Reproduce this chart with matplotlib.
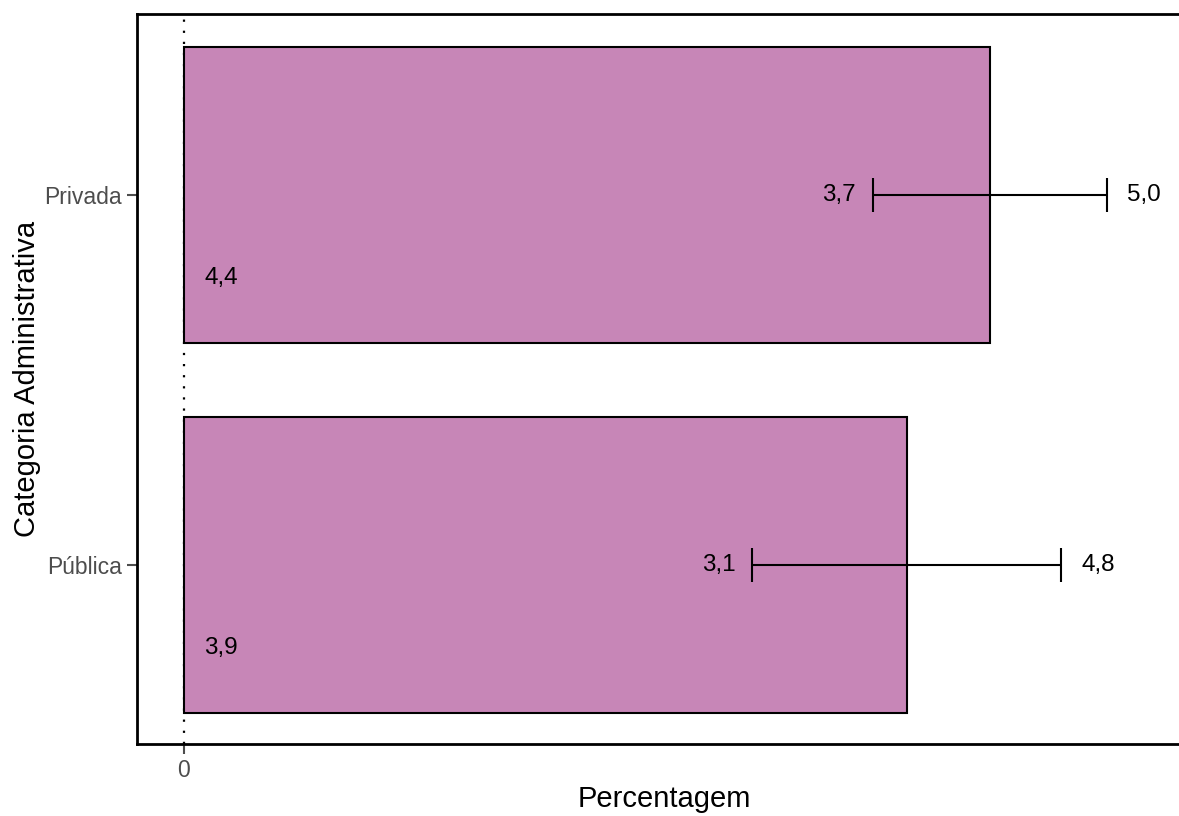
import matplotlib.pyplot as plt

# dados
categorias = ['Pública', 'Privada']
valores = [3.917, 4.366]
ic_inf = [3.077, 3.732]
ic_sup = [4.751, 5.0]


def fmt(v):
    return f'{v:.1f}'.replace('.', ',')


plt.rcParams['font.family'] = ['Liberation Sans', 'DejaVu Sans']
cor_barra = '#c786b7'

fig = plt.figure(figsize=(11.79, 8.16), dpi=100)
ax = fig.add_axes([137/1179, 1 - 744/816, 1 - 137/1179 + 0.01, (744 - 14)/816])

y = [1, 2]
ax.axvline(0, color='black', linestyle=(0, (1, 4)), linewidth=1.6, zorder=1)
ax.barh(y, valores, height=0.8, color=cor_barra, edgecolor='black', linewidth=1.5, zorder=2)

for yi, v, lo, hi in zip(y, valores, ic_inf, ic_sup):
    ax.errorbar((lo + hi) / 2, yi, xerr=(hi - lo) / 2, fmt='none', ecolor='black',
                elinewidth=1.5, capsize=12, capthick=1.5, zorder=3)
    ax.text(lo - 0.09, yi, fmt(lo), ha='right', va='center', fontsize=17.5, zorder=4)
    ax.text(hi + 0.11, yi, fmt(hi), ha='left', va='center', fontsize=17.5, zorder=4)
    ax.text(0.11, yi - 0.225, fmt(v), ha='left', va='center', fontsize=17.5, zorder=4)

ax.set_xlim(-0.2546, 5.455)
ax.set_ylim(0.516, 2.49)
ax.set_xticks([0])
ax.set_xticklabels(['0'])
ax.set_yticks(y)
ax.set_yticklabels(categorias)
ax.tick_params(axis='both', colors='#4d4d4d', labelcolor='#4d4d4d', labelsize=16.5,
               length=7, width=1.5, pad=4)
ax.set_xlabel('Percentagem', fontsize=21, labelpad=2)
ax.set_ylabel('Categoria Administrativa', fontsize=21, labelpad=2)
for s in ax.spines.values():
    s.set_linewidth(2)
    s.set_color('black')

fig.savefig('out.png', dpi=100)
